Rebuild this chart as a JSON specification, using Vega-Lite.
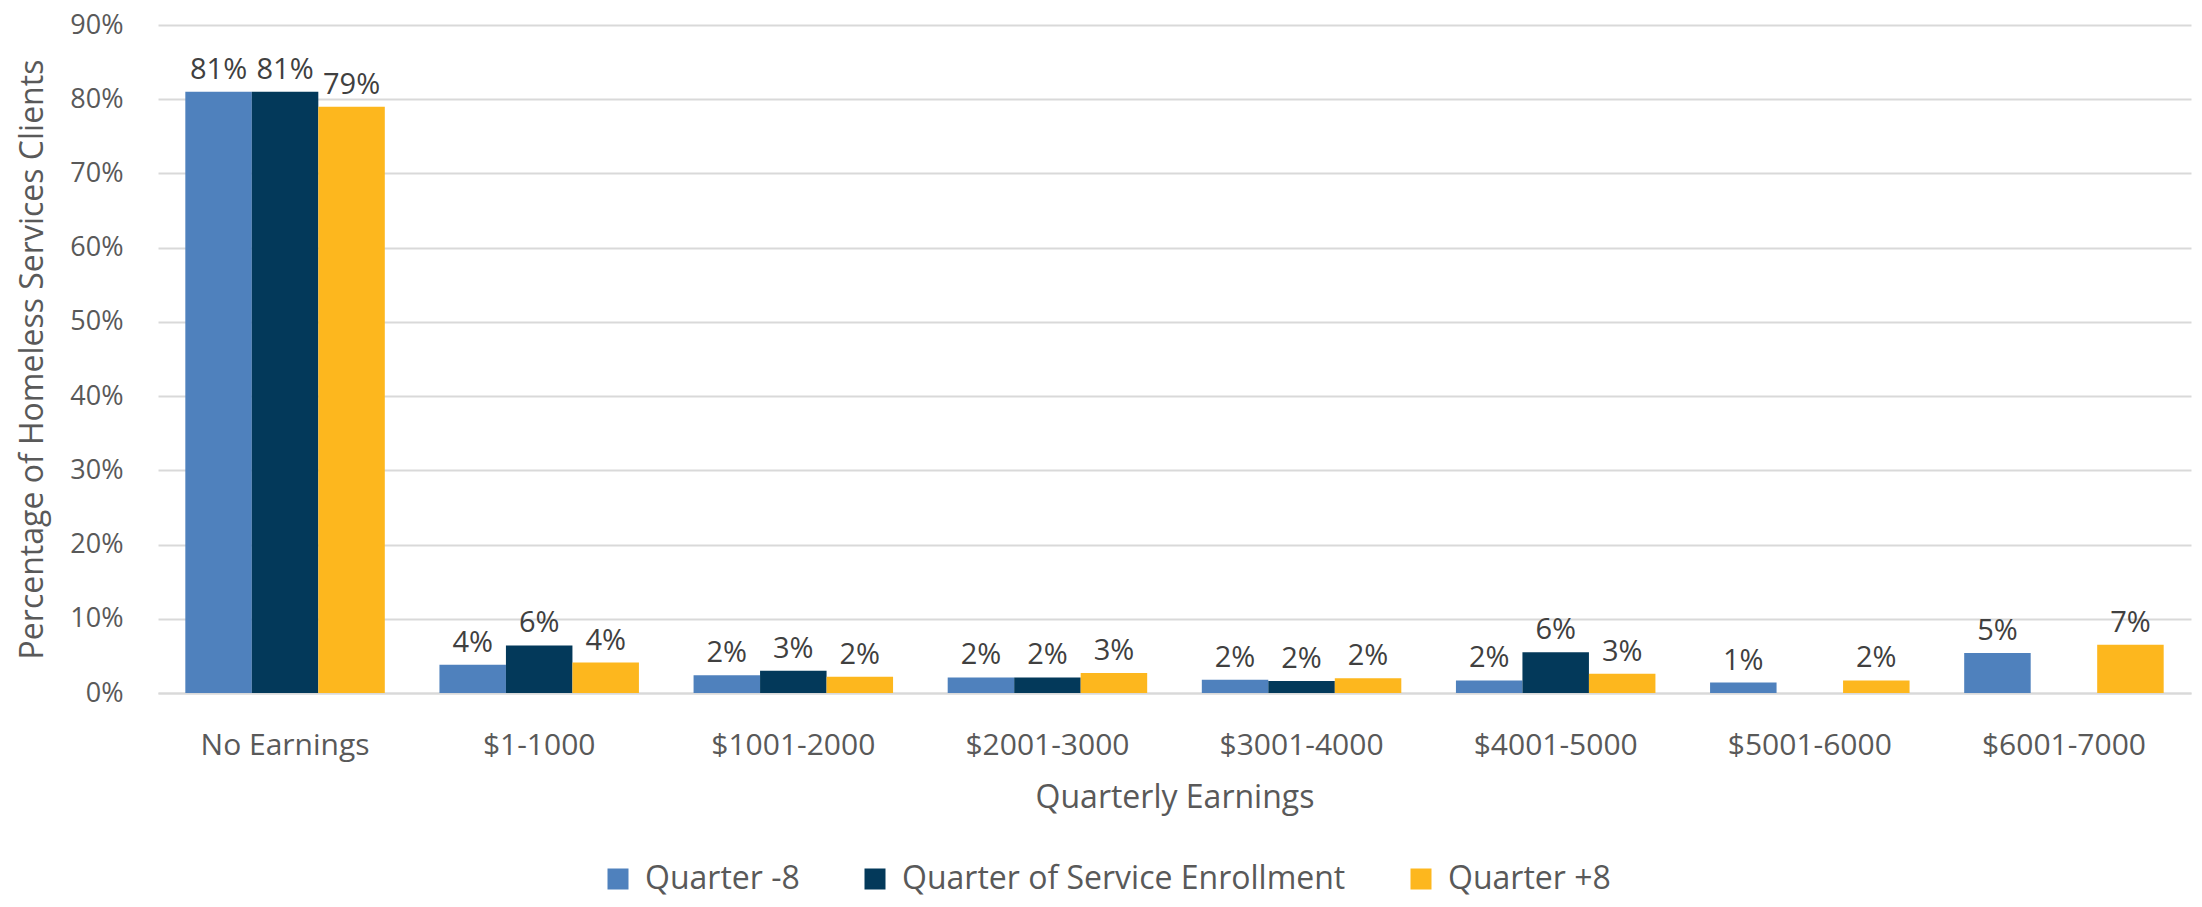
{
  "$schema": "https://vega.github.io/schema/vega-lite/v6.json",
  "width": 2033,
  "height": 668,
  "autosize": {"type": "none"},
  "padding": {"left": 158, "top": 25, "right": 11, "bottom": 214},
  "background": "white",
  "config": {
    "view": {"stroke": null},
    "font": "Open Sans",
    "axis": {"labelFont": "Open Sans", "titleFont": "Open Sans", "labelColor": "#595959", "titleColor": "#595959", "titleFontWeight": "normal"},
    "legend": {"labelFont": "Open Sans"}
  },
  "data": {
    "values": [
      {"earnings": "No Earnings", "quarter": "Quarter -8", "pct": 0.81, "label": "81%"},
      {"earnings": "No Earnings", "quarter": "Quarter of Service Enrollment", "pct": 0.81, "label": "81%"},
      {"earnings": "No Earnings", "quarter": "Quarter +8", "pct": 0.79, "label": "79%"},
      {"earnings": "$1-1000", "quarter": "Quarter -8", "pct": 0.038, "label": "4%"},
      {"earnings": "$1-1000", "quarter": "Quarter of Service Enrollment", "pct": 0.064, "label": "6%"},
      {"earnings": "$1-1000", "quarter": "Quarter +8", "pct": 0.041, "label": "4%"},
      {"earnings": "$1001-2000", "quarter": "Quarter -8", "pct": 0.024, "label": "2%"},
      {"earnings": "$1001-2000", "quarter": "Quarter of Service Enrollment", "pct": 0.030, "label": "3%"},
      {"earnings": "$1001-2000", "quarter": "Quarter +8", "pct": 0.022, "label": "2%"},
      {"earnings": "$2001-3000", "quarter": "Quarter -8", "pct": 0.021, "label": "2%"},
      {"earnings": "$2001-3000", "quarter": "Quarter of Service Enrollment", "pct": 0.021, "label": "2%"},
      {"earnings": "$2001-3000", "quarter": "Quarter +8", "pct": 0.027, "label": "3%"},
      {"earnings": "$3001-4000", "quarter": "Quarter -8", "pct": 0.018, "label": "2%"},
      {"earnings": "$3001-4000", "quarter": "Quarter of Service Enrollment", "pct": 0.016, "label": "2%"},
      {"earnings": "$3001-4000", "quarter": "Quarter +8", "pct": 0.020, "label": "2%"},
      {"earnings": "$4001-5000", "quarter": "Quarter -8", "pct": 0.017, "label": "2%"},
      {"earnings": "$4001-5000", "quarter": "Quarter of Service Enrollment", "pct": 0.055, "label": "6%"},
      {"earnings": "$4001-5000", "quarter": "Quarter +8", "pct": 0.026, "label": "3%"},
      {"earnings": "$5001-6000", "quarter": "Quarter -8", "pct": 0.014, "label": "1%"},
      {"earnings": "$5001-6000", "quarter": "Quarter +8", "pct": 0.017, "label": "2%"},
      {"earnings": "$6001-7000", "quarter": "Quarter -8", "pct": 0.054, "label": "5%"},
      {"earnings": "$6001-7000", "quarter": "Quarter +8", "pct": 0.065, "label": "7%"}
    ]
  },
  "encoding": {
    "x": {
      "field": "earnings", "type": "nominal",
      "sort": ["No Earnings", "$1-1000", "$1001-2000", "$2001-3000", "$3001-4000", "$4001-5000", "$5001-6000", "$6001-7000"],
      "scale": {"paddingInner": 0.215, "paddingOuter": 0.1075},
      "axis": {"title": "Quarterly Earnings", "labelAngle": 0, "labelFontSize": 30, "titleFontSize": 32, "ticks": false, "tickSize": 0, "labelPadding": 37, "titlePadding": 22, "domain": true, "domainColor": "#D9D9D9", "domainWidth": 2, "grid": false}
    },
    "xOffset": {
      "field": "quarter", "type": "nominal",
      "sort": ["Quarter -8", "Quarter of Service Enrollment", "Quarter +8"],
      "scale": {"paddingInner": 0, "paddingOuter": 0}
    },
    "y": {
      "field": "pct", "type": "quantitative",
      "scale": {"domain": [0, 0.9], "nice": false},
      "axis": {"title": "Percentage of Homeless Services Clients", "format": ".0%", "values": [0, 0.1, 0.2, 0.3, 0.4, 0.5, 0.6, 0.7, 0.8, 0.9], "labelFontSize": 27, "titleFontSize": 32, "ticks": false, "tickSize": 0, "labelPadding": 35, "titlePadding": 20, "domain": false, "grid": true, "gridColor": "#D9D9D9", "gridWidth": 2}
    }
  },
  "layer": [
    {
      "mark": {"type": "bar"},
      "encoding": {
        "color": {
          "field": "quarter", "type": "nominal",
          "scale": {"domain": ["Quarter -8", "Quarter of Service Enrollment", "Quarter +8"], "range": ["#4F81BD", "#03395A", "#FDB71E"]},
          "legend": {"title": null, "orient": "none", "direction": "horizontal", "legendX": 444, "legendY": 838, "labelFontSize": 32, "labelColor": "#595959", "labelLimit": 0, "symbolType": "square", "symbolSize": 441, "symbolStrokeWidth": 0, "symbolOpacity": 1, "labelOffset": 11, "columnPadding": 59}
        }
      }
    },
    {
      "mark": {"type": "text", "baseline": "alphabetic", "dy": -13, "fontSize": 29, "color": "#404040", "font": "Open Sans"},
      "encoding": {"text": {"field": "label"}}
    }
  ]
}
